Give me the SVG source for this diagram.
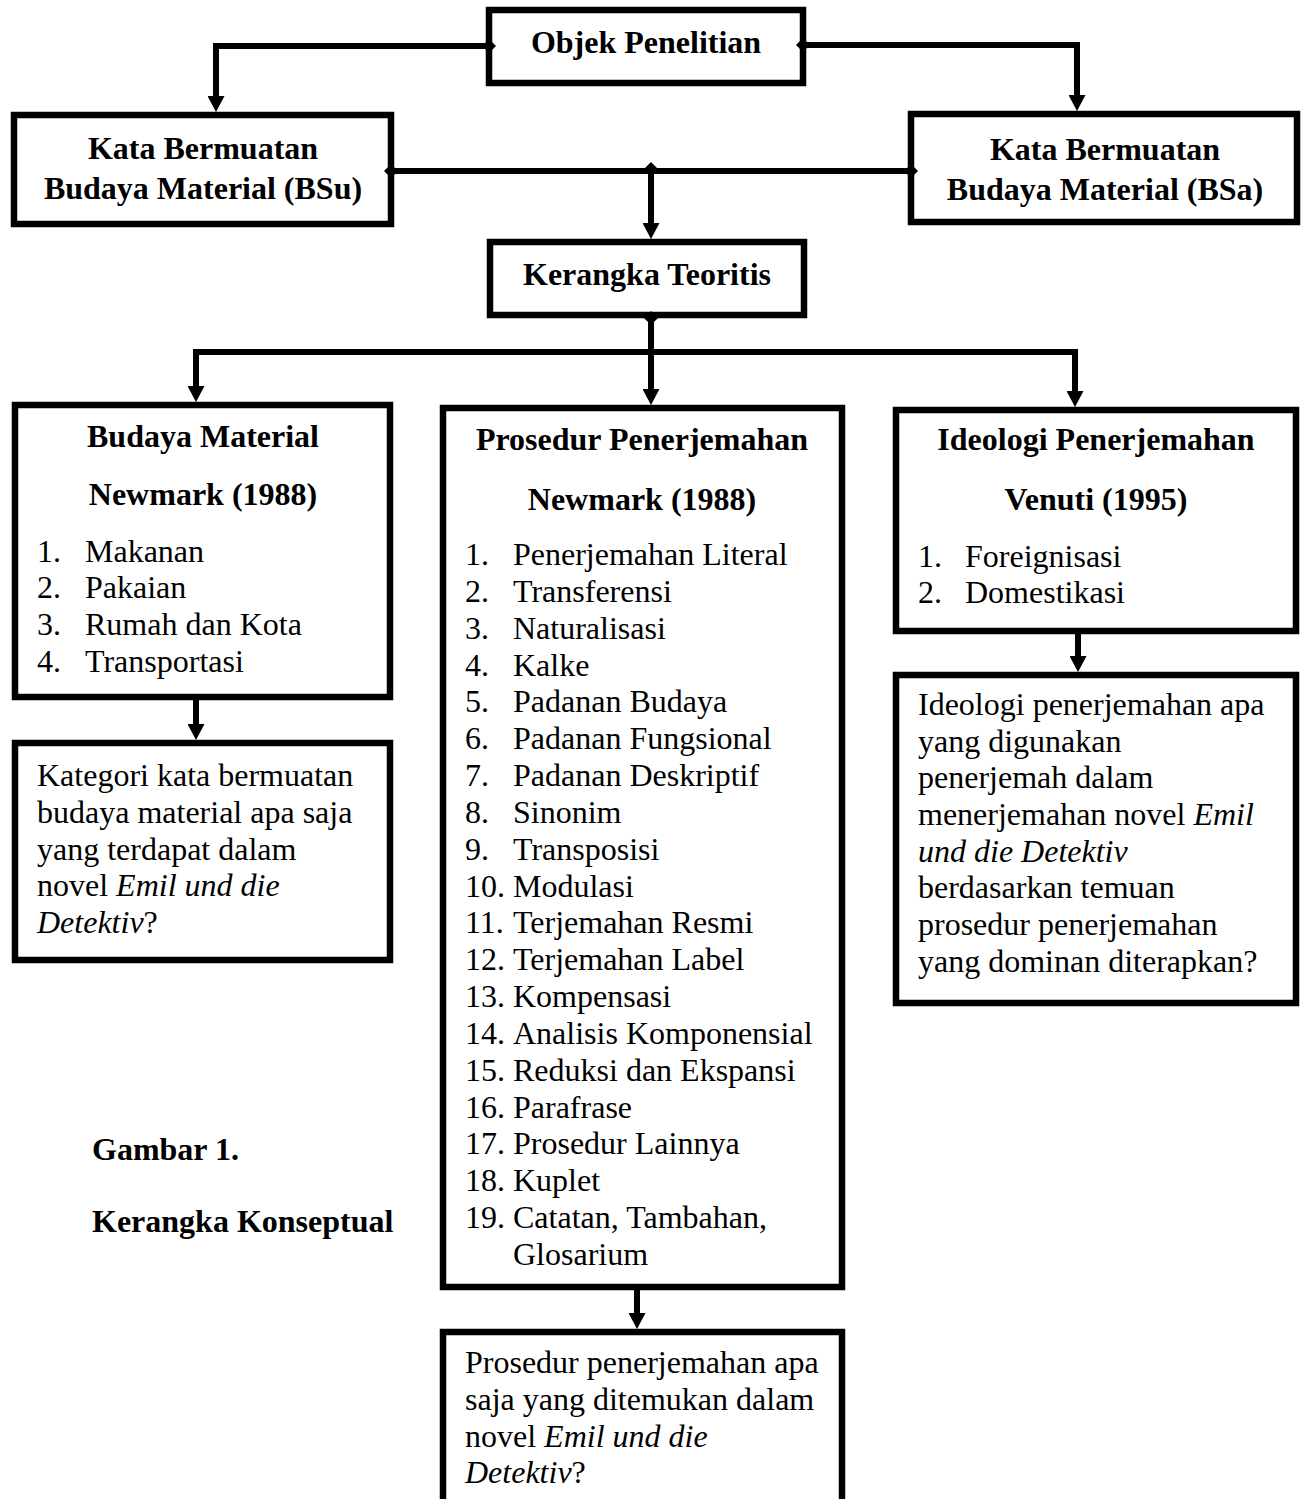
<svg xmlns="http://www.w3.org/2000/svg" width="1304" height="1499" viewBox="0 0 1304 1499">
<style>
.box{fill:#fff;stroke:#000;stroke-width:6.5}
.conn{fill:none;stroke:#000;stroke-width:6;marker-end:url(#arrow)}
.line{fill:none;stroke:#000;stroke-width:6}
.h{font-family:"Liberation Serif","Times New Roman",serif;font-weight:bold;font-size:32px;text-anchor:middle;fill:#000}
.hl{font-family:"Liberation Serif","Times New Roman",serif;font-weight:bold;font-size:32px;fill:#000}
.t{font-family:"Liberation Serif","Times New Roman",serif;font-size:32px;fill:#000}
.i{font-style:italic}
</style>
<defs>
<marker id="arrow" markerUnits="userSpaceOnUse" markerWidth="16" markerHeight="17" refX="2" refY="8.5" orient="auto" viewBox="0 0 16 17">
<path d="M0,0 L16,8.5 L0,17 z" fill="#000"/>
</marker>
<path id="knob" d="M0,-7 L7,0 L0,7 L-7,0 z" fill="#000"/>
</defs>

<g id="node-objek">
<rect class="box" x="489" y="10" width="314" height="73"/>
<text class="h" x="646" y="53">Objek Penelitian</text>
</g>
<g id="node-bsu">
<rect class="box" x="14" y="115" width="377" height="109"/>
<text class="h" x="203" y="159">Kata Bermuatan</text>
<text class="h" x="203" y="199">Budaya Material (BSu)</text>
</g>
<g id="node-bsa">
<rect class="box" x="911" y="114" width="386" height="108"/>
<text class="h" x="1105" y="160">Kata Bermuatan</text>
<text class="h" x="1105" y="200">Budaya Material (BSa)</text>
</g>
<g id="node-kerangka">
<rect class="box" x="490" y="242" width="314" height="73"/>
<text class="h" x="647" y="285">Kerangka Teoritis</text>
</g>
<g id="node-budaya">
<rect class="box" x="15" y="405" width="375" height="292"/>
<text class="h" x="203" y="447">Budaya Material</text>
<text class="h" x="203" y="505">Newmark (1988)</text>
<text class="t" x="37" y="562">1.</text><text class="t" x="85" y="562">Makanan</text>
<text class="t" x="37" y="598">2.</text><text class="t" x="85" y="598">Pakaian</text>
<text class="t" x="37" y="635">3.</text><text class="t" x="85" y="635">Rumah dan Kota</text>
<text class="t" x="37" y="672">4.</text><text class="t" x="85" y="672">Transportasi</text>
</g>
<g id="node-prosedur">
<rect class="box" x="443" y="408" width="399" height="879"/>
<text class="h" x="642" y="450">Prosedur Penerjemahan</text>
<text class="h" x="642" y="510">Newmark (1988)</text>
<text class="t" x="465" y="565">1.</text><text class="t" x="513" y="565">Penerjemahan Literal</text>
<text class="t" x="465" y="602">2.</text><text class="t" x="513" y="602">Transferensi</text>
<text class="t" x="465" y="639">3.</text><text class="t" x="513" y="639">Naturalisasi</text>
<text class="t" x="465" y="676">4.</text><text class="t" x="513" y="676">Kalke</text>
<text class="t" x="465" y="712">5.</text><text class="t" x="513" y="712">Padanan Budaya</text>
<text class="t" x="465" y="749">6.</text><text class="t" x="513" y="749">Padanan Fungsional</text>
<text class="t" x="465" y="786">7.</text><text class="t" x="513" y="786">Padanan Deskriptif</text>
<text class="t" x="465" y="823">8.</text><text class="t" x="513" y="823">Sinonim</text>
<text class="t" x="465" y="860">9.</text><text class="t" x="513" y="860">Transposisi</text>
<text class="t" x="465" y="897">10.</text><text class="t" x="513" y="897">Modulasi</text>
<text class="t" x="465" y="933">11.</text><text class="t" x="513" y="933">Terjemahan Resmi</text>
<text class="t" x="465" y="970">12.</text><text class="t" x="513" y="970">Terjemahan Label</text>
<text class="t" x="465" y="1007">13.</text><text class="t" x="513" y="1007">Kompensasi</text>
<text class="t" x="465" y="1044">14.</text><text class="t" x="513" y="1044">Analisis Komponensial</text>
<text class="t" x="465" y="1081">15.</text><text class="t" x="513" y="1081">Reduksi dan Ekspansi</text>
<text class="t" x="465" y="1118">16.</text><text class="t" x="513" y="1118">Parafrase</text>
<text class="t" x="465" y="1154">17.</text><text class="t" x="513" y="1154">Prosedur Lainnya</text>
<text class="t" x="465" y="1191">18.</text><text class="t" x="513" y="1191">Kuplet</text>
<text class="t" x="465" y="1228">19.</text><text class="t" x="513" y="1228">Catatan, Tambahan,</text>
<text class="t" x="513" y="1265">Glosarium</text>
</g>
<g id="node-ideologi">
<rect class="box" x="896" y="410" width="400" height="221"/>
<text class="h" x="1096" y="450">Ideologi Penerjemahan</text>
<text class="h" x="1096" y="510">Venuti (1995)</text>
<text class="t" x="918" y="567">1.</text><text class="t" x="965" y="567">Foreignisasi</text>
<text class="t" x="918" y="603">2.</text><text class="t" x="965" y="603">Domestikasi</text>
</g>
<g id="node-q-kategori">
<rect class="box" x="15" y="743" width="375" height="217"/>
<text class="t" x="37" y="786">Kategori kata bermuatan</text>
<text class="t" x="37" y="823">budaya material apa saja</text>
<text class="t" x="37" y="860">yang terdapat dalam</text>
<text class="t" x="37" y="896">novel <tspan class="i">Emil und die</tspan></text>
<text class="t" x="37" y="933"><tspan class="i">Detektiv</tspan>?</text>
</g>
<g id="node-q-ideologi">
<rect class="box" x="896" y="675" width="400" height="328"/>
<text class="t" x="918" y="715">Ideologi penerjemahan apa</text>
<text class="t" x="918" y="752">yang digunakan</text>
<text class="t" x="918" y="788">penerjemah dalam</text>
<text class="t" x="918" y="825">menerjemahan novel <tspan class="i">Emil</tspan></text>
<text class="t i" x="918" y="862">und die Detektiv</text>
<text class="t" x="918" y="898">berdasarkan temuan</text>
<text class="t" x="918" y="935">prosedur penerjemahan</text>
<text class="t" x="918" y="972">yang dominan diterapkan?</text>
</g>
<g id="node-q-prosedur">
<rect class="box" x="443" y="1332" width="399" height="190"/>
<text class="t" x="465" y="1373">Prosedur penerjemahan apa</text>
<text class="t" x="465" y="1410">saja yang ditemukan dalam</text>
<text class="t" x="465" y="1447">novel <tspan class="i">Emil und die</tspan></text>
<text class="t" x="465" y="1483"><tspan class="i">Detektiv</tspan>?</text>
</g>
<g id="caption">
<text class="hl" x="92" y="1160">Gambar 1.</text>
<text class="hl" x="92" y="1232">Kerangka Konseptual</text>
</g>

<g id="connectors">
<path class="conn" d="M489,46 H216 V98"/>
<path class="conn" d="M803,45 H1077 V97"/>
<path class="conn" d="M391,171 H651 V225"/>
<path class="line" d="M911,171 H651"/>
<path class="conn" d="M651,318 V352 H196 V388"/>
<path class="conn" d="M651,352 V391"/>
<path class="conn" d="M651,352 H1075 V393"/>
<path class="conn" d="M196,700 V726"/>
<path class="conn" d="M637,1290 V1315"/>
<path class="conn" d="M1078,634 V658"/>
<use href="#knob" x="489" y="46"/>
<use href="#knob" x="803" y="45"/>
<use href="#knob" x="391" y="171"/>
<use href="#knob" x="911" y="171"/>
<use href="#knob" x="651" y="169"/>
<use href="#knob" x="651" y="318"/>
</g>
</svg>
